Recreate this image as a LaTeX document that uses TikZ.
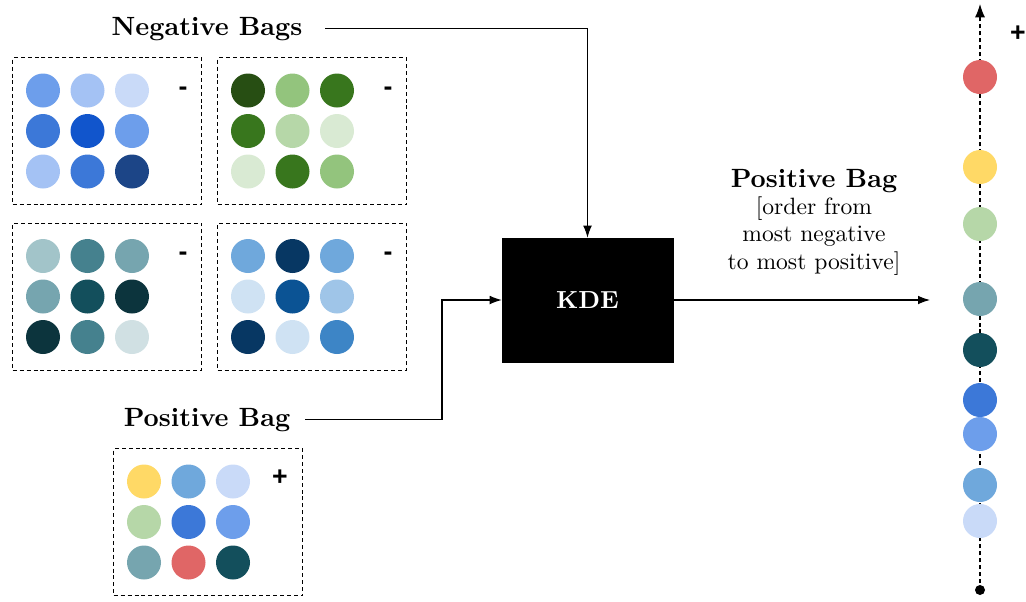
\documentclass[tikz,border=0pt]{standalone}
\usepackage{fontspec}
\setmainfont{lmroman10-regular}[Extension=.otf, BoldFont=lmroman10-bold]
\newfontfamily\signfont{Liberation Sans}
\usetikzlibrary{arrows.meta}

% palette
\definecolor{cfl1}{HTML}{6D9EEB}\definecolor{cfl2}{HTML}{A4C2F4}\definecolor{cfl3}{HTML}{C9DAF8}
\definecolor{cfd1}{HTML}{3C78D8}\definecolor{cfd2}{HTML}{1155CC}\definecolor{cfd3}{HTML}{1C4587}
\definecolor{grl1}{HTML}{93C47D}\definecolor{grl2}{HTML}{B6D7A8}\definecolor{grl3}{HTML}{D9EAD3}
\definecolor{grd2}{HTML}{38761D}\definecolor{grd3}{HTML}{274E13}
\definecolor{cyl1}{HTML}{76A5AF}\definecolor{cyl2}{HTML}{A2C4C9}\definecolor{cyl3}{HTML}{D0E0E3}
\definecolor{cyd1}{HTML}{45818E}\definecolor{cyd2}{HTML}{134F5C}\definecolor{cyd3}{HTML}{0C343D}
\definecolor{bll1}{HTML}{6FA8DC}\definecolor{bll2}{HTML}{9FC5E8}\definecolor{bll3}{HTML}{CFE2F3}
\definecolor{bld1}{HTML}{3D85C6}\definecolor{bld2}{HTML}{0B5394}\definecolor{bld3}{HTML}{073763}
\definecolor{yel1}{HTML}{FFD966}\definecolor{red1}{HTML}{E06666}

% 3x3 grid of dots inside a bag: #1 name, #2 left, #3 top, #4 colours
\newcommand\bagdots[4]{%
  \foreach \c [count=\k from 0] in {#4}{%
    \pgfmathtruncatemacro\bagrow{floor(\k/3)}%
    \pgfmathtruncatemacro\bagcol{\k-3*\bagrow}%
    \pgfmathsetmacro\dx{#2+31+44.5*\bagcol}%
    \pgfmathsetmacro\dy{#3+33.5+40.5*\bagrow}%
    \node[dot, fill=\c] (#1-\k) at (\dx,\dy) {};
  }%
}

\begin{document}
\begin{tikzpicture}[x=0.75pt, y=-0.75pt,
  dot/.style={circle, inner sep=0pt, minimum size=25.5pt},
  bag/.style={draw, dash pattern=on 3pt off 2.2pt, line width=1.1pt, inner sep=0pt,
              minimum width=141.75pt, minimum height=110.25pt, anchor=north west},
  head/.style={font=\fontsize{19.8}{23}\selectfont\bfseries, inner sep=0pt},
  note/.style={font=\fontsize{17.7}{20.6}\selectfont, align=center, inner sep=0pt},
  sign/.style={font=\signfont\bfseries\fontsize{20}{20}\selectfont, inner sep=0pt},
  arr/.style={line width=0.8pt, -{Latex[length=9pt,width=6.5pt]}},
  axisline/.style={line width=0.8pt, dash pattern=on 3pt off 2.2pt,
                   -{Latex[length=10pt,width=7.5pt]}},
  kdebox/.style={draw, fill=black, text=white, minimum width=128.25pt, minimum height=93pt,
                 font=\fontsize{18.5}{22}\selectfont\bfseries}]
\useasboundingbox (0,0) rectangle (1026,601);

% negative bags
\node[bag] (bagA) at (12,57) {};
\node[bag] (bagB) at (217,57) {};
\node[bag] (bagC) at (12,222.5) {};
\node[bag] (bagD) at (217,222.5) {};
\bagdots{bagA}{12}{57}{cfl1,cfl2,cfl3,cfd1,cfd2,cfl1,cfl2,cfd1,cfd3}
\bagdots{bagB}{217}{57}{grd3,grl1,grd2,grd2,grl2,grl3,grl3,grd2,grl1}
\bagdots{bagC}{12}{222.5}{cyl2,cyd1,cyl1,cyl1,cyd2,cyd3,cyd3,cyd1,cyl3}
\bagdots{bagD}{217}{222.5}{bll1,bld3,bll1,bll3,bld2,bll2,bld3,bll3,bld1}
\node[sign] (bagA-s) at (183,91) {-};
\node[sign] (bagB-s) at (388,91) {-};
\node[sign] (bagC-s) at (183,256) {-};
\node[sign] (bagD-s) at (388,256) {-};

% positive bag
\node[bag] (bagP) at (113,448) {};
\bagdots{bagP}{113}{448}{yel1,bll1,cfl3,grl2,cfd1,cfl1,cyl1,red1,cyd2}
\node[sign] (bagP-s) at (280,478) {+};

% labels
\node[head, anchor=base] (neglabel) at (207,35) {Negative Bags};
\node[head, anchor=base] (poslabel) at (207,426) {Positive Bag};

% kernel density estimation block
\node[kdebox] (kde) at (587.5,300) {KDE};

% connectors
\coordinate (bend) at (442,418);
\coordinate (axin) at (930,300);
\draw[arr, shorten <=17pt] (neglabel.east) -| (kde.north);
\draw[arr, shorten <=11pt] (poslabel.east) -- (poslabel.east -| bend) |- (kde.west);
\draw[arr] (kde.east) -- (axin);

% ordered output
\node[head, anchor=base] (ordtitle) at (814,187) {Positive Bag};
\node[note] (ordnote) at (814,236) {{[}order from\\most negative\\to most positive]};

% score axis
\node[circle, fill=black, inner sep=0pt, minimum size=7.5pt] (axbot) at (980,590) {};
\coordinate (axtop) at (980,4);
\draw[axisline] (axbot.center) -- (axtop);
\foreach \c/\y [count=\k] in {red1/77, yel1/167, grl2/224, cyl1/299, cyd2/350,
                              cfd1/400, cfl1/434, bll1/485, cfl3/521}
  \node[dot, fill=\c] (ax-\k) at (980,\y) {};
\node[sign] (axplus) at (1018,34) {+};
\end{tikzpicture}
\end{document}
